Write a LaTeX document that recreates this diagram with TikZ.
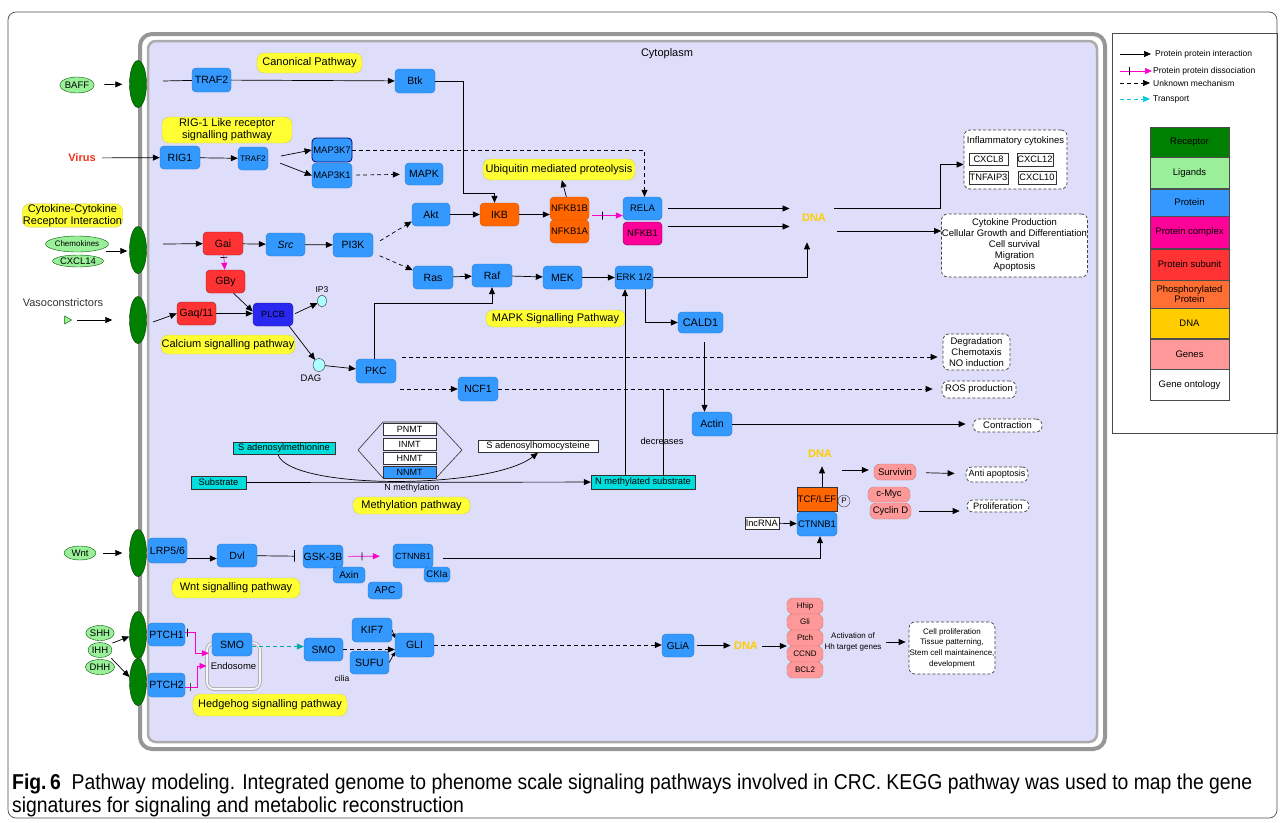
\documentclass[tikz,border=0pt]{standalone}
\usepackage{fontspec}
\setmainfont{Liberation Sans}
\newfontfamily\captionfont[FakeStretch=0.9]{Liberation Sans}
\usepackage{tikz}
\usetikzlibrary{arrows.meta, positioning, shapes.geometric}
\usepackage{xcolor}
\definecolor{cellfill}{RGB}{222,222,250}
\definecolor{membrane}{RGB}{150,150,150}
\definecolor{protblue}{RGB}{51,153,255}
\definecolor{recgreen}{RGB}{0,128,0}
\definecolor{liggreen}{RGB}{153,240,153}
\definecolor{cplxpink}{RGB}{255,0,153}
\definecolor{subred}{RGB}{255,51,51}
\definecolor{phosorange}{RGB}{255,102,0}
\definecolor{legorange}{RGB}{255,110,50}
\definecolor{dnayellow}{RGB}{255,204,0}
\definecolor{genepink}{RGB}{255,153,153}
\definecolor{pathyellow}{RGB}{255,255,51}
\definecolor{metcyan}{RGB}{0,221,221}
\definecolor{transteal}{RGB}{0,170,170}
\definecolor{legcyan}{RGB}{0,204,221}
\definecolor{plcblue}{RGB}{40,40,240}
\definecolor{dissmagenta}{RGB}{255,0,204}
\definecolor{virusred}{RGB}{240,50,30}
\definecolor{smallcyan}{RGB}{170,255,255}
\tikzset{%
	protein/.style={
		rectangle, rounded corners=4pt,
		fill=protblue, draw=protblue!75!black,
		minimum width=40pt, minimum height=23pt,
		inner sep=0pt, font=\fontsize{10.5}{12}\selectfont
	},
	protein subunit/.style={protein, fill=subred, draw=subred!55!black},
	phospho protein/.style={protein, fill=phosorange, draw=phosorange!80!black},
	protein complex/.style={protein, fill=cplxpink, draw=cplxpink!35!black},
	gene box/.style={
		protein, rounded corners=6pt,
		fill=genepink, draw=genepink!80!black,
		minimum width=36pt, minimum height=16pt,
		font=\fontsize{8}{9}\selectfont
	},
	receptor/.style={
		ellipse, fill=recgreen, draw=recgreen!45!black,
		minimum width=17pt, minimum height=47pt, inner sep=0pt
	},
	ligand/.style={
		ellipse, fill=liggreen, draw=recgreen!70!black,
		inner sep=0pt, font=\fontsize{9.5}{10}\selectfont
	},
	pathway label/.style={
		rectangle, rounded corners=7pt,
		fill=pathyellow, draw=olive!45,
		inner sep=0.5pt, align=center
	},
	ontology/.style={
		rectangle, rounded corners=6pt,
		fill=white, draw=black!75, dash pattern=on 3pt off 2pt,
		line width=0.7pt, inner sep=0.5pt, align=center
	},
	cytokine box/.style={
		rectangle, fill=white, draw=black!80,
		inner sep=0pt, font=\fontsize{9.3}{10}\selectfont
	},
	metabolite/.style={
		rectangle, fill=metcyan, draw=black!80,
		minimum height=12pt, inner sep=0.5pt, font=\fontsize{9.3}{10}\selectfont
	},
	enzyme/.style={
		rectangle, fill=white, draw=black!80,
		minimum width=53pt, minimum height=12pt,
		inner sep=0pt, font=\fontsize{9}{10}\selectfont
	},
	dna label/.style={text=dnayellow, font=\fontsize{11}{12}\bfseries\selectfont},
	small molecule/.style={ellipse, fill=smallcyan, draw=black!80, inner sep=0pt},
	interaction/.style={-{Triangle[length=7pt,width=6pt]}, line width=0.7pt},
	unknown/.style={interaction, dash pattern=on 4pt off 3pt},
	dissociation/.style={interaction, draw=dissmagenta},
	transport/.style={interaction, draw=transteal, dash pattern=on 4pt off 3pt},
	diss tick/.style={draw=black, inner sep=0pt, minimum width=0pt, minimum height=8pt, sloped},
	legend box/.style={
		rectangle, draw=black!70, minimum width=79pt,
		inner sep=0pt, font=\fontsize{9.5}{10.5}\selectfont, align=center
	},
	legend text/.style={anchor=west, inner sep=1pt, font=\fontsize{8.5}{9}\selectfont}
}

\begin{document}
\begin{tikzpicture}[x=1pt, y=-1pt, font=\fontsize{11}{13}\selectfont]
	\useasboundingbox (0,0) rectangle (1284,822);
	
	% Draw the frame
	\draw[black!70, line width=0.7pt, rounded corners=8pt] (8,12) rectangle (1277,818);
	
	% Draw the cell and its membrane
	\draw[membrane, line width=4pt, fill=white, rounded corners=12pt] (140,34) rectangle (1105,749);
	\draw[membrane!80, line width=2.5pt, fill=cellfill, rounded corners=8pt] (148,41) rectangle (1097,742);
	\node (cytoText) at (667,54) {Cytoplasm};
	
	% Draw the legend
	\draw[black!70, line width=0.7pt] (1112,33) rectangle (1277,433);
	\node[legend text] (lgInter) at (1154,54) {Protein protein interaction};
	\node[legend text] (lgDiss) at (1152,71) {Protein protein dissociation};
	\node[legend text] (lgUnk) at (1152,83) {Unknown mechanism};
	\node[legend text] (lgTrans) at (1152,99) {Transport};
	\draw[interaction] ([xshift=-34pt]lgInter.west) -- ([xshift=-3pt]lgInter.west);
	\draw[dissociation] ([xshift=-32pt]lgDiss.west) -- node[diss tick, pos=0.3]{} (lgDiss.west);
	\draw[unknown] ([xshift=-32pt]lgUnk.west) -- ([xshift=-2pt]lgUnk.west);
	\draw[transport, draw=legcyan] ([xshift=-32pt]lgTrans.west) -- ([xshift=-2pt]lgTrans.west);
	\node[legend box, fill=recgreen, minimum height=30pt, anchor=north] (lgRec) at (1189.5,127) {Receptor};
	\node[legend box, fill=liggreen, minimum height=31pt, below=0pt of lgRec] (lgLig) {Ligands};
	\node[legend box, fill=protblue, minimum height=27pt, below=0pt of lgLig] (lgProt) {Protein};
	\node[legend box, fill=cplxpink, minimum height=32pt, below=0pt of lgProt] (lgCplx) {Protein complex};
	\node[legend box, fill=subred, minimum height=31pt, below=0pt of lgCplx] (lgSub) {Protein subunit};
	\node[legend box, fill=legorange, minimum height=28pt, below=0pt of lgSub] (lgPhos) {Phosphorylated\\Protein};
	\node[legend box, fill=dnayellow, minimum height=30pt, below=0pt of lgPhos] (lgDNA) {DNA};
	\node[legend box, fill=genepink, minimum height=30pt, below=0pt of lgDNA] (lgGene) {Genes};
	\node[legend box, fill=white, minimum height=31pt, below=0pt of lgGene] (lgGO) {Gene ontology};
	
	% Draw the receptors
	\node[receptor] (rBAFF) at (138,84) {};
	\node[receptor] (rChemo) at (138,250) {};
	\node[receptor] (rVaso) at (138,320) {};
	\node[receptor] (rWnt) at (138,553) {};
	\node[receptor] (rPTCHa) at (138,635) {};
	\node[receptor] (rPTCHb) at (138,682) {};
	
	% Draw the ligands
	\node[ligand, minimum width=30pt, minimum height=16pt] (BAFF) at (77,85) {BAFF};
	\node[text=virusred, font=\fontsize{11}{12}\bfseries\selectfont] (Virus) at (82,158) {Virus};
	\node[pathway label, minimum width=99pt, minimum height=23pt] (ccri) at (72.5,215.5) {Cytokine-Cytokine\\[-1pt]Receptor Interaction};
	\node[ligand, minimum width=51pt, minimum height=16pt, font=\fontsize{8}{9}\selectfont] (Chemokines) at (77,244) {Chemokines};
	\node[ligand, minimum width=50pt, minimum height=12pt] (CXCL14) at (78,261) {CXCL14};
	\node[text=black!80] (Vaso) at (63,303) {Vasoconstrictors};
	\node[isosceles triangle, isosceles triangle stretches, fill=liggreen, draw=recgreen!70!black, minimum width=8pt, minimum height=7pt, inner sep=0pt] (vasoTri) at (67,320) {};
	\node[ligand, minimum width=32pt, minimum height=14pt] (Wnt) at (80,553) {Wnt};
	\node[ligand, minimum width=24pt, minimum height=15pt] (SHH) at (100,633) {SHH};
	\node[ligand, minimum width=24pt, minimum height=15pt] (IHH) at (100,650) {IHH};
	\node[ligand, minimum width=24pt, minimum height=15pt] (DHH) at (100,667) {DHH};
	
	% Draw the pathway labels
	\node[pathway label, minimum width=105pt, minimum height=20pt] (canon) at (309.5,63) {Canonical Pathway};
	\node[pathway label, minimum width=130pt, minimum height=26pt] (rigPath) at (227,130) {RIG-1 Like receptor\\[-1pt]signalling pathway};
	\node[pathway label, minimum width=152pt, minimum height=21pt] (ubiq) at (559,169.5) {Ubiquitin mediated proteolysis};
	\node[pathway label, minimum width=134pt, minimum height=19pt] (calcium) at (228,344.5) {Calcium signalling pathway};
	\node[pathway label, minimum width=139pt, minimum height=17pt] (mapkPath) at (555.5,318.5) {MAPK Signalling Pathway};
	\node[pathway label, minimum width=117pt, minimum height=17pt] (methPath) at (411.5,505.5) {Methylation pathway};
	\node[pathway label, minimum width=128pt, minimum height=20pt] (wntPath) at (236,588) {Wnt signalling pathway};
	\node[pathway label, minimum width=154pt, minimum height=22pt] (hhPath) at (270,705) {Hedgehog signalling pathway};
	
	% Draw the proteins
	\node[protein, minimum width=39pt, minimum height=24pt] (TRAFa) at (211.5,80) {TRAF2};
	\node[protein, minimum height=24pt] (Btk) at (415,81) {Btk};
	\node[protein] (RIG1) at (180,157.5) {RIG1};
	\node[protein, minimum width=30pt, font=\fontsize{8}{9}\selectfont] (TRAFb) at (253,158.5) {TRAF2};
	\node[protein, minimum height=24pt, draw=black!55!blue, line width=0.8pt, font=\fontsize{9.5}{10}\selectfont] (MAP3K7) at (332,150) {MAP3K7};
	\node[protein, minimum height=25pt, font=\fontsize{9.5}{10}\selectfont] (MAP3K1) at (332,175.5) {MAP3K1};
	\node[protein, minimum width=38pt, minimum height=22pt] (MAPK) at (424,174) {MAPK};
	\node[protein, minimum width=38pt] (Akt) at (431,214.5) {Akt};
	\node[phospho protein, minimum width=39pt] (IKB) at (499.5,214.5) {IKB};
	\node[phospho protein, minimum width=39pt, font=\fontsize{9.5}{10}\selectfont] (NFKB1B) at (569.5,208.5) {NFKB1B};
	\node[phospho protein, minimum width=39pt, font=\fontsize{9.5}{10}\selectfont] (NFKB1A) at (569.5,231.5) {NFKB1A};
	\node[protein, minimum width=39pt, font=\fontsize{9.5}{10}\selectfont] (RELA) at (642.5,208.5) {RELA};
	\node[protein complex, minimum width=39pt, font=\fontsize{9.5}{10}\selectfont] (NFKB1) at (642.5,233.5) {NFKB1};
	\node[protein subunit] (Gai) at (223,243.5) {Gai};
	\node[protein, minimum width=39pt] (Src) at (285.5,244.5) {\itshape Src};
	\node[protein, minimum height=24pt] (PI3K) at (353,245) {PI3K};
	\node[protein subunit, minimum width=39pt] (GBy) at (225.5,281.5) {GBy};
	\node[protein subunit, minimum width=39pt] (Gaq) at (196.5,313.5) {Gaq/11};
	\node[protein, fill=plcblue, draw=plcblue!60!black, font=\fontsize{9}{10}\selectfont] (PLCB) at (273,314.5) {PLCB};
	\node[small molecule, minimum width=9pt, minimum height=12pt] (IP3) at (322,301) {};
	\node[font=\fontsize{8.5}{9}\selectfont] (IP3text) at (322,290) {IP3};
	\node[small molecule, minimum width=12pt, minimum height=13pt] (DAG) at (319,365) {};
	\node[font=\fontsize{9.5}{10}\selectfont] (DAGtext) at (311,378) {DAG};
	\node[protein] (Ras) at (433,277.5) {Ras};
	\node[protein] (Raf) at (492,275.5) {Raf};
	\node[protein, minimum width=39pt] (MEK) at (562.5,277.5) {MEK};
	\node[protein, minimum width=38pt, font=\fontsize{9.5}{10}\selectfont] (ERK) at (634,277.5) {ERK 1/2};
	\node[protein, minimum height=24pt] (PKC) at (376,371) {PKC};
	\node[protein, minimum height=24pt] (NCF1) at (478,389) {NCF1};
	\node[protein, minimum width=45pt, minimum height=21pt, font=\fontsize{11}{12}\selectfont] (CALD1) at (700.5,322.5) {CALD1};
	\node[protein, minimum height=24pt] (Actin) at (712,424) {Actin};
	
	% Draw the DNA and its outcomes
	\node[dna label] (dnaA) at (814,218) {DNA};
	\node[ontology, minimum width=103pt, minimum height=59pt] (inflam) at (1015.5,159.5) {};
	\node[font=\fontsize{9.5}{10}\selectfont] (inflamTitle) at (1015.5,141) {Inflammatory cytokines};
	\node[cytokine box, minimum width=39pt, minimum height=12pt] (cxclA) at (988.5,159) {CXCL8};
	\node[cytokine box, minimum width=36pt, minimum height=13pt] (cxclB) at (1035,159.5) {CXCL12};
	\node[cytokine box, minimum width=39pt, minimum height=13pt] (tnfaip) at (988.5,177.5) {TNFAIP3};
	\node[cytokine box, minimum width=38pt, minimum height=13pt] (cxclC) at (1037,177.5) {CXCL10};
	\node[ontology, minimum width=145pt, minimum height=63pt, font=\fontsize{9.5}{11}\selectfont] (cytoProd) at (1014.5,245.5) {Cytokine Production\\Cellular Growth and Differentiation\\Cell survival\\Migration\\Apoptosis};
	\node[ontology, minimum width=67pt, minimum height=36pt, font=\fontsize{9.5}{11}\selectfont] (degrad) at (976.5,352) {Degradation\\Chemotaxis\\NO induction};
	\node[ontology, minimum width=74pt, minimum height=17pt, font=\fontsize{9.5}{10}\selectfont] (ros) at (979,389.5) {ROS production};
	\node[ontology, minimum width=69pt, minimum height=13pt, font=\fontsize{9.5}{10}\selectfont] (contraction) at (1007.5,425.5) {Contraction};
	
	% Draw the methylation pathway
	\draw[black!80, line width=0.6pt] (383,422) -- (436,422) -- (462,450) -- (436,478) -- (383,478) -- (358,450) -- cycle;
	\node[enzyme] (PNMT) at (409.5,429) {PNMT};
	\node[enzyme] (INMT) at (409.5,444) {INMT};
	\node[enzyme] (HNMT) at (409.5,458) {HNMT};
	\node[enzyme, fill=protblue] (NNMT) at (409.5,472.5) {NNMT};
	\node[metabolite, minimum width=102pt] (SAM) at (284,448.5) {S adenosylmethionine};
	\node[metabolite, fill=white, minimum width=120pt] (SAH) at (538,446.5) {S adenosylhomocysteine};
	\node[metabolite, minimum width=55pt, minimum height=13pt] (substrate) at (218.5,482.5) {Substrate};
	\node[metabolite, minimum width=104pt, minimum height=14pt] (NMS) at (643,482) {N methylated substrate};
	\node[font=\fontsize{9}{10}\selectfont] (nmethText) at (412,488.5) {N methylation};
	\node[font=\fontsize{9.3}{10}\selectfont] (decText) at (662,441) {decreases};
	
	% Draw the Wnt pathway
	\node[protein, minimum width=39pt, minimum height=25pt] (LRP) at (167.5,550.5) {LRP5/6};
	\node[protein] (Dvl) at (237,555.5) {Dvl};
	\node[protein] (GSK3B) at (323,556.5) {GSK-3B};
	\node[protein, minimum width=32pt, minimum height=16pt, font=\fontsize{10}{11}\selectfont] (Axin) at (349,575) {Axin};
	\node[protein, minimum width=34pt, minimum height=17pt, font=\fontsize{10}{11}\selectfont] (APC) at (385,590.5) {APC};
	\node[protein, minimum height=24pt, font=\fontsize{9}{10}\selectfont] (CTNNBw) at (413,556) {CTNNB1};
	\node[protein, minimum width=26pt, minimum height=15pt, font=\fontsize{9.5}{10}\selectfont] (CKIa) at (437,574.5) {CKIa};
	\node[dna label] (dnaW) at (820,454) {DNA};
	\node[phospho protein, rounded corners=0pt, draw=black!80, minimum height=24pt, font=\fontsize{9.5}{10}\selectfont] (TCF) at (817,499) {TCF/LEF};
	\node[circle, draw=black!80, inner sep=0.5pt, minimum size=12pt, font=\fontsize{8}{9}\selectfont] (phosP) at (844,501) {P};
	\node[protein, minimum height=24pt, font=\fontsize{9.5}{10}\selectfont] (CTNNBt) at (817,524) {CTNNB1};
	\node[cytokine box, minimum width=34pt, minimum height=12pt] (lncRNA) at (762,523) {lncRNA};
	\node[gene box, minimum width=42pt, font=\fontsize{9.5}{10}\selectfont] (survivin) at (895,472) {Survivin};
	\node[gene box, minimum width=42pt, minimum height=15pt, font=\fontsize{9.5}{10}\selectfont] (cMyc) at (889,494.5) {c-Myc};
	\node[gene box, minimum width=41pt, font=\fontsize{9.5}{10}\selectfont] (cyclinD) at (890.5,511) {Cyclin D};
	\node[ontology, minimum width=62pt, minimum height=15pt, font=\fontsize{9}{10}\selectfont] (antiApop) at (997,474.5) {Anti apoptosis};
	\node[ontology, minimum width=62pt, minimum height=12pt, font=\fontsize{9.3}{10}\selectfont] (prolif) at (998,506) {Proliferation};
	
	% Draw the Hedgehog pathway
	\node[protein, minimum width=37pt] (PTCHa) at (166.5,634.5) {PTCH1};
	\node[protein, minimum width=37pt, minimum height=24pt] (PTCHb) at (166.5,685) {PTCH2};
	\node[rectangle, rounded corners=7pt, draw=gray!60, double=white!70!cellfill, double distance=1.6pt, line width=1pt, minimum width=53pt, minimum height=46pt, font=\fontsize{9.5}{10}\selectfont] (endo) at (233.5,666) {Endosome};
	\node[protein] (SMOe) at (232,644.5) {SMO};
	\node[protein, minimum width=39pt] (SMOc) at (323.5,649.5) {SMO};
	\node[protein, minimum height=24pt] (KIF7) at (372,630) {KIF7};
	\node[protein, minimum width=39pt] (SUFU) at (369.5,662.5) {SUFU};
	\node[protein, minimum width=39pt, minimum height=24pt] (GLI) at (414.5,645) {GLI};
	\node[font=\fontsize{8.5}{9}\selectfont] (ciliaText) at (342,678) {cilia};
	\node[protein, minimum width=32pt, font=\fontsize{10}{11}\selectfont] (GLiA) at (678,645.5) {GLiA};
	\node[dna label] (dnaH) at (746,646) {DNA};
	\node[gene box] (hhip) at (805,606) {Hhip};
	\node[gene box] (gli) at (805,622) {Gli};
	\node[gene box] (ptch) at (805,638) {Ptch};
	\node[gene box] (ccnd) at (805,654) {CCND};
	\node[gene box] (bcl) at (805,670) {BCL2};
	\node[align=center, font=\fontsize{8}{10.5}\selectfont] (hhText) at (853,642) {Activation of\\Hh target genes};
	\node[ontology, minimum width=86pt, minimum height=52pt, font=\fontsize{8}{10.7}\selectfont] (cellProlif) at (952,648) {Cell proliferation\\Tissue patterning,\\Stem cell maintainence,\\development};
	
	% Draw the BAFF and RIG-1 connectors
	\coordinate (baffIn) at (163,81);
	\draw[interaction, shorten <=10pt, shorten >=7pt] (BAFF) -- (rBAFF);
	\draw[line width=0.7pt] (baffIn) -- (TRAFa);
	\draw[interaction] (TRAFa) -- (Btk);
	\draw[interaction] (Btk.east) -- ++(28,0) |- ([xshift=-5pt,yshift=9pt]IKB.north) -- ([xshift=-5pt]IKB.north);
	\draw[interaction, shorten <=3pt] (Virus) -- (RIG1);
	\draw[interaction] (RIG1) -- (TRAFb);
	\draw[interaction, shorten <=13pt] (TRAFb.east) -- (MAP3K7.west);
	\draw[interaction, shorten <=13pt] (TRAFb.east) -- (MAP3K1.west);
	\draw[unknown, shorten <=4pt, shorten >=5pt] (MAP3K1) -- (MAPK);
	\draw[unknown] (MAP3K7.east) -| ([xshift=2pt]RELA.north);
	
	% Draw the chemokine connectors
	\coordinate (chemoIn) at (106,251);
	\coordinate (chemoOut) at (163,244);
	\draw[interaction, shorten >=2pt] (chemoIn) -- (chemoIn -| rChemo.west);
	\draw[interaction] (chemoOut) -- (Gai);
	\draw[interaction] (Gai) -- (Src);
	\draw[interaction] (Src) -- (PI3K);
	\draw[dissociation] (Gai) -- node[diss tick, minimum height=7pt, pos=0.15]{} (GBy);
	\draw[unknown, shorten <=8pt] (PI3K.east) -- (Akt.200);
	\draw[unknown, shorten <=7pt] ([yshift=-8pt]PI3K.east) -- (Ras.160);
	\draw[interaction] (Akt) -- (IKB);
	\draw[interaction] (IKB.east) -- (IKB.east -| NFKB1B.west);
	\draw[interaction] (NFKB1B) -- (ubiq);
	\draw[dissociation, shorten <=3pt] ([yshift=-7pt]NFKB1B.east) -- node[diss tick, pos=0.38]{} ([yshift=-7pt]NFKB1B.east -| RELA.west);
	\draw[interaction, shorten <=6pt, shorten >=9pt] (RELA.east) -- (RELA.east -| dnaA.west);
	\draw[interaction, shorten <=6pt, shorten >=9pt] ([yshift=7pt]NFKB1.east) -- ([yshift=7pt]NFKB1.east -| dnaA.west);
	\draw[interaction, shorten <=5pt] ([yshift=10pt]dnaA.east) -- ++(111,0) |- ([yshift=-5pt]inflam.west);
	\draw[interaction, shorten <=8pt] ([yshift=-13pt]dnaA.east) -- ([yshift=-13pt]dnaA.east -| cytoProd.west);
	
	% Draw the MAPK connectors
	\draw[interaction] (Ras) -- (Raf);
	\draw[interaction] (Raf) -- (MEK);
	\draw[interaction] (MEK) -- (ERK);
	\draw[interaction, shorten >=17pt] (ERK.east) -| ([xshift=-7pt]dnaA.south);
	\draw[interaction] ([xshift=11pt]ERK.south) |- (CALD1.west);
	\draw[interaction, shorten <=9pt] ([xshift=4pt]CALD1.south) -- ([xshift=4pt]CALD1.south |- Actin.north);
	\draw[interaction, shorten >=7pt] (Actin) -- (Actin -| contraction.west);
	
	% Draw the calcium connectors
	\coordinate (vasoOut) at (153,322);
	\draw[interaction, shorten <=5pt, shorten >=17pt] (vasoTri) -- (rVaso);
	\draw[interaction] (vasoOut) -- (Gaq.west);
	\draw[interaction] (Gaq) -- (Gaq -| PLCB.west);
	\draw[interaction] ([xshift=8pt]GBy.south) -- ([yshift=3pt]PLCB.west);
	\draw[interaction, shorten <=2pt] (PLCB.east) -- (IP3);
	\draw[interaction] ([xshift=-4pt]PLCB.south east) -- (DAG);
	\draw[interaction] (DAG) -- (PKC);
	\draw[interaction] ([xshift=-2pt]PKC.north) |- ([yshift=-16pt]Raf.south) -- (Raf.south);
	\draw[unknown, shorten <=6pt, shorten >=5pt] ([yshift=14pt]PKC.east) -- ([yshift=14pt]PKC.east -| degrad.west);
	\draw[unknown, shorten <=4pt] (PKC.east |- NCF1.west) -- (NCF1.west);
	\draw[unknown, shorten >=9pt] (NCF1) -- (NCF1 -| ros.west);
	
	% Draw the methylation connectors
	\draw[interaction] ([xshift=-6pt]SAM.south) .. controls (290,490) and (490,490) .. (SAH.south);
	\draw[interaction] (substrate) -- (NMS);
	\draw[interaction] ([xshift=-18pt]NMS.north) -- ([xshift=-18pt]NMS.north |- ERK.south);
	\draw[line width=0.7pt] ([xshift=20pt]NMS.north) -- ([xshift=20pt]NMS.north |- NCF1.east);
	
	% Draw the Wnt connectors
	\draw[interaction, shorten <=7pt, shorten >=7pt] (Wnt) -- (rWnt);
	\draw[interaction] ([yshift=-8pt]LRP.east) -- ([yshift=-8pt]LRP.east -| Dvl.west);
	\draw[-{Bar[width=12pt]}, line width=0.7pt, shorten >=8pt] (Dvl) -- (GSK3B);
	\draw[dissociation, shorten <=5pt, shorten >=13pt] (GSK3B) -- node[diss tick, pos=0.38]{} (CTNNBw);
	\draw[interaction, shorten <=10pt] ([yshift=-2pt]CTNNBw.east) -| ([xshift=3pt]CTNNBt.south);
	\draw[interaction] (lncRNA) -- (CTNNBt);
	\draw[interaction, shorten >=5pt] ([xshift=5pt]TCF.north) -- ([xshift=5pt]TCF.north |- dnaW.south);
	\coordinate (wntOut) at (842,470);
	\draw[interaction, shorten >=5pt] (wntOut) -- (wntOut -| survivin.west);
	\draw[interaction, shorten <=10pt, shorten >=11pt] (survivin) -- (antiApop);
	\draw[interaction, shorten <=8pt, shorten >=7pt] (cyclinD.east) -- (cyclinD.east -| prolif.west);
	
	% Draw the Hedgehog connectors
	\draw[interaction, shorten <=4pt] (IHH.north east) -- (rPTCHa.190);
	\draw[interaction, shorten <=4pt] (IHH.south east) -- (rPTCHb.150);
	\draw[dissociation, shorten >=3pt] ([yshift=2pt]PTCHa.east) -- node[diss tick, pos=0.25]{} ++(10,0) |- ([yshift=3pt]SMOe.south west);
	\draw[dissociation] ([yshift=-2pt]PTCHb.east) -- node[diss tick, pos=0.4]{} ++(12,0) |- (endo.west);
	\draw[transport] ([yshift=-2pt]SMOe.east) -- ([yshift=-2pt]SMOe.east -| SMOc.west);
	\draw[unknown] (SMOc.east) -- (SMOc.east -| GLI.west);
	\draw[-{Triangle[length=4pt,width=4pt]}, line width=0.7pt] (KIF7.east) -- ([yshift=-5pt]GLI.north west);
	\draw[-{Triangle[length=4pt,width=4pt]}, line width=0.7pt] (SUFU.east) -- ([yshift=5pt]GLI.south west);
	\draw[unknown] (GLI) -- (GLI -| GLiA.west);
	\draw[interaction, shorten <=3pt] (GLiA) -- (GLiA -| dnaH.west);
	\draw[interaction, shorten <=1pt] (dnaH) -- (dnaH -| ptch.west);
	\draw[interaction, shorten <=1pt, shorten >=3pt] (hhText) -- (hhText -| cellProlif.west);
	
	% Draw the caption
	\node[anchor=base west, inner sep=0pt, font=\captionfont\fontsize{21.5}{23}\selectfont] (capA) at (12,789) {\textbf{Fig.\,6}\ \ Pathway modeling. Integrated genome to phenome scale signaling pathways involved in CRC. KEGG pathway was used to map the gene};
	\node[anchor=base west, inner sep=0pt, font=\captionfont\fontsize{21.5}{23}\selectfont] (capB) at (12,812) {signatures for signaling and metabolic reconstruction};
\end{tikzpicture}
\end{document}
